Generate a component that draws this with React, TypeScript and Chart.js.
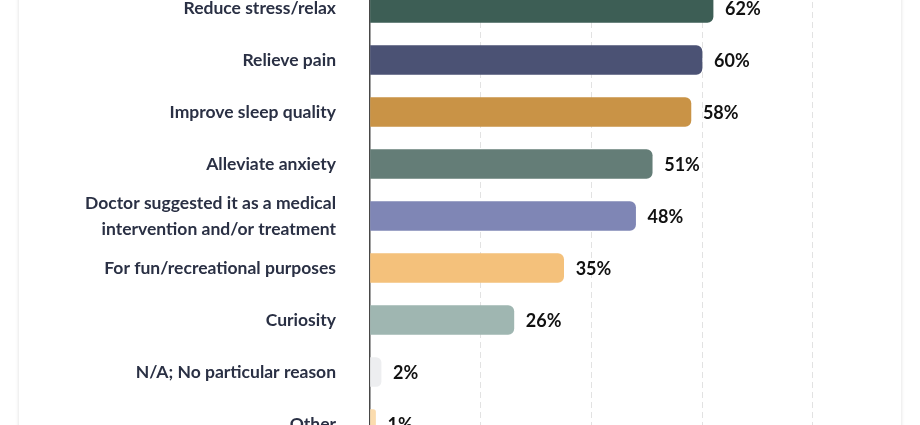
import React, { useEffect, useRef } from "react";
import { Chart, registerables } from "chart.js";

Chart.register(...registerables);

const categories: (string | string[])[] = [
  "Reduce stress/relax",
  "Relieve pain",
  "Improve sleep quality",
  "Alleviate anxiety",
  ["Doctor suggested it as a medical", "intervention and/or treatment"],
  "For fun/recreational purposes",
  "Curiosity",
  "N/A; No particular reason",
  "Other",
];

const values = [62, 60, 58, 51, 48, 35, 26, 2, 1];

const barColors = [
  "#3d5e55",
  "#4b5274",
  "#c99346",
  "#647d77",
  "#7f86b5",
  "#f4c17b",
  "#9fb6b1",
  "#edeef0",
  "#fbdcae",
];

const gridTicks = [20, 40, 60, 80];
const xMax = 90;
const xStep = 20;

const valueLabelPlugin = {
  id: "valueLabels",
  afterDatasetsDraw(chart: any) {
    const ctx = chart.ctx;
    const meta = chart.getDatasetMeta(0);
    ctx.save();
    ctx.font = "700 18px Lato";
    ctx.fillStyle = "#111111";
    ctx.textAlign = "left";
    ctx.textBaseline = "middle";
    meta.data.forEach((el: any, i: number) => {
      ctx.fillText(values[i] + "%", el.x + 12, el.y + 1);
    });
    ctx.restore();
  },
};

export default function App() {
  const ref = useRef<HTMLCanvasElement | null>(null);

  useEffect(() => {
    if (!ref.current) return;
    const chart = new Chart(ref.current, {
      type: "bar",
      data: {
        labels: categories,
        datasets: [
          {
            data: values,
            backgroundColor: barColors,
            barThickness: 29,
            borderRadius: 6,
            borderSkipped: "start",
          },
        ],
      },
      options: {
        indexAxis: "y",
        animation: false,
        responsive: true,
        maintainAspectRatio: false,
        layout: { padding: { left: 0, right: 33, top: 0, bottom: 0 } },
        plugins: {
          legend: { display: false },
          tooltip: { enabled: false },
        },
        scales: {
          x: {
            min: 0,
            max: xMax,
            ticks: { display: false, stepSize: xStep },
            grid: {
              drawTicks: false,
              lineWidth: 1,
              color: (c: any) =>
                c.tick && gridTicks.includes(c.tick.value) ? "#e2e2e2" : "rgba(0,0,0,0)",
            },
            border: { display: false, dash: [6, 4] },
            afterFit: (s: any) => {
              s.height = 0;
              s.paddingLeft = 0;
              s.paddingRight = 0;
            },
          },
          y: {
            type: "category",
            grid: {
              display: true,
              drawOnChartArea: false,
              drawTicks: true,
              tickLength: 34,
              tickColor: "rgba(0,0,0,0)",
            },
            border: { display: true, color: "#474747", width: 1.5 },
            ticks: {
              padding: 0,
              autoSkip: false,
              crossAlign: "near",
              color: "#2a3044",
              font: { family: "Lato", size: 17.5, weight: "bold", lineHeight: 1.486 },
            },
            afterFit: (s: any) => {
              s.width = 351;
              s.paddingTop = 0;
              s.paddingBottom = 0;
            },
          },
        },
      },
      plugins: [valueLabelPlugin],
    } as any);
    return () => chart.destroy();
  }, []);

  return (
    <div
      style={{
        position: "fixed",
        left: 0,
        top: 0,
        width: 920,
        height: 425,
        overflow: "hidden",
        background: "#ffffff",
      }}
    >
      <div
        style={{
          position: "absolute",
          left: 19,
          top: -30,
          width: 882,
          height: 500,
          background: "#ffffff",
          boxShadow: "0 0 3px 1px rgba(0,0,0,0.09)",
        }}
      />
      <div
        style={{
          position: "absolute",
          left: 19,
          top: -18,
          width: 882,
          height: 468,
        }}
      >
        <canvas ref={ref} />
      </div>
    </div>
  );
}
